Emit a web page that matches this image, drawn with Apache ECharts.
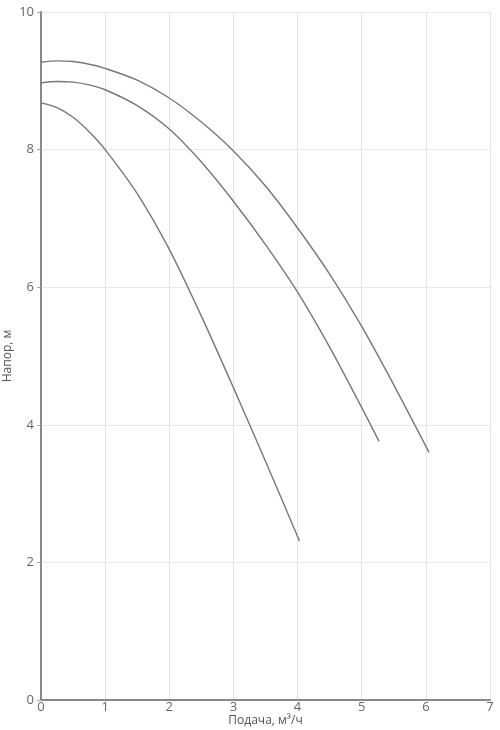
<!DOCTYPE html>
<html>
<head>
<meta charset="utf-8">
<script src="https://cdn.jsdelivr.net/npm/echarts@6/dist/echarts.min.js"></script>
<style>html,body{margin:0;padding:0;background:#fff}#c{width:500px;height:730px}</style>
</head>
<body>
<div id="c"></div>
<script>
// Curve 1 (top)
const x1 = [0, 0.25, 0.5, 0.75, 1, 1.5, 2, 2.5, 3, 3.5, 4, 4.5, 5, 5.5, 6.05];
const y1 = [9.27, 9.29, 9.28, 9.24, 9.18, 9.01, 8.75, 8.40, 7.98, 7.47, 6.86, 6.19, 5.43, 4.58, 3.60];
// Curve 2 (middle)
const x2 = [0, 0.25, 0.5, 0.75, 1, 1.5, 2, 2.5, 3, 3.5, 4, 4.5, 5, 5.27];
const y2 = [8.97, 8.99, 8.98, 8.94, 8.87, 8.64, 8.30, 7.82, 7.25, 6.62, 5.93, 5.13, 4.25, 3.76];
// Curve 3 (bottom)
const x3 = [0, 0.25, 0.5, 0.75, 1, 1.5, 2, 2.5, 3, 3.5, 4.03];
const y3 = [8.68, 8.61, 8.47, 8.26, 8.00, 7.36, 6.55, 5.58, 4.54, 3.47, 2.31];
const xTicks = [0, 1, 2, 3, 4, 5, 6, 7];
const yTicks = [0, 2, 4, 6, 8, 10];

const xName = 'Подача, м³/ч';
const yName = 'Напор, м';

function pairs(xs, ys) { return xs.map((x, i) => [x, ys[i]]); }

const chart = echarts.init(document.getElementById('c'), null, {renderer: 'canvas'});
const lineStyle = {color: '#777777', width: 1.4};
chart.setOption({
  animation: false,
  textStyle: {fontFamily: 'Open Sans'},
  grid: {left: 41, right: 10, top: 12, bottom: 30, containLabel: false, outerBoundsMode: 'none'},
  xAxis: {
    type: 'value', min: xTicks[0], max: xTicks[xTicks.length - 1], interval: 1,
    name: xName, nameLocation: 'middle', nameGap: 15, nameMoveOverlap: false,
    nameTextStyle: {color: '#555', fontSize: 12, fontFamily: 'Open Sans'},
    axisLine: {show: true, lineStyle: {color: '#888', width: 2}},
    axisTick: {show: false},
    axisLabel: {color: '#666', fontSize: 13, margin: 1, fontFamily: 'Open Sans'},
    splitLine: {show: true, lineStyle: {color: '#e2e3ee', width: 1}}
  },
  yAxis: {
    type: 'value', min: yTicks[0], max: yTicks[yTicks.length - 1], interval: 2,
    name: yName, nameLocation: 'middle', nameGap: 27, nameRotate: 90, nameMoveOverlap: false,
    nameTextStyle: {color: '#555', fontSize: 12, fontFamily: 'Open Sans'},
    axisLine: {show: true, lineStyle: {color: '#888', width: 2}},
    axisTick: {show: true, length: 4, lineStyle: {color: '#aaa'}},
    axisLabel: {color: '#666', fontSize: 13, margin: 7, fontFamily: 'Open Sans'},
    splitLine: {show: true, lineStyle: {color: '#e8e9ee', width: 1}}
  },
  series: [
    {type: 'line', smooth: 0.3, showSymbol: false, data: pairs(x1, y1), lineStyle: lineStyle},
    {type: 'line', smooth: 0.3, showSymbol: false, data: pairs(x2, y2), lineStyle: lineStyle},
    {type: 'line', smooth: 0.3, showSymbol: false, data: pairs(x3, y3), lineStyle: lineStyle}
  ]
});
</script>
</body>
</html>
